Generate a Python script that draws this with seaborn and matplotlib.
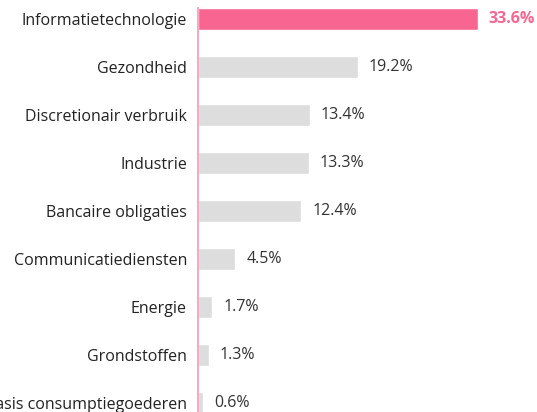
import matplotlib
matplotlib.use("Agg")
import matplotlib.pyplot as plt
import seaborn as sns
import pandas as pd

# sector weights
sectors = ['Informatietechnologie', 'Gezondheid', 'Discretionair verbruik', 'Industrie',
           'Bancaire obligaties', 'Communicatiediensten', 'Energie', 'Grondstoffen',
           'Basis consumptiegoederen']
weights = [33.6, 19.2, 13.4, 13.3, 12.4, 4.5, 1.7, 1.3, 0.6]

pink = '#f76590'
grey = '#dddddd'
colors = [pink] + [grey] * (len(sectors) - 1)

sns.set_style('white')
plt.rcParams['font.family'] = ['Open Sans', 'DejaVu Sans']

df = pd.DataFrame({'sector': sectors, 'weight': weights})

fig = plt.figure(figsize=(5.37, 4.12), dpi=100)
ax = fig.add_axes([198 / 537, 0, 1 - 198 / 537, 1])

sns.barplot(data=df, x='weight', y='sector', hue='sector', palette=colors,
            legend=False, width=0.46, ax=ax, saturation=1)

px_per_unit = 8.33
ax.set_xlim(0, (537 - 198) / px_per_unit)
step = 48.0
ax.set_ylim((412 - 19) / step, -19 / step)

off = 11 / px_per_unit
for i, (v, c) in enumerate(zip(weights, colors)):
    if i == 0:
        ax.text(v + off, i, f'{v}%', va='center', ha='left', fontsize=11.5,
                color=pink, fontweight='bold')
    else:
        ax.text(v + off, i, f'{v}%', va='center', ha='left', fontsize=11.5, color='#333333')

for s in ['top', 'right', 'bottom']:
    ax.spines[s].set_visible(False)
ax.spines['left'].set_color('#f7a8c4')
ax.spines['left'].set_linewidth(1.5)
ax.spines['left'].set_bounds(-0.23, 9)

ax.set_xticks([])
# the last label runs off the left edge, same as the reference
ax.tick_params(axis='y', length=0, pad=8, labelsize=11.5, labelcolor='#222222')
ax.set_xlabel('')
ax.set_ylabel('')

fig.savefig('out.png', dpi=100)
